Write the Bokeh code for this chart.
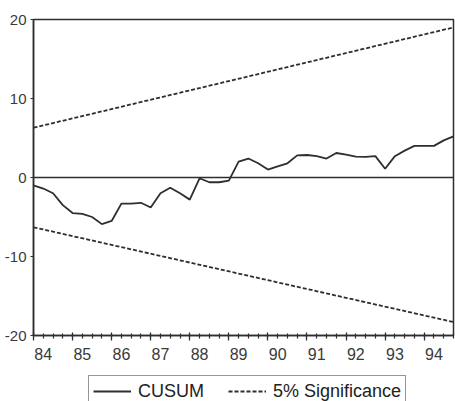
from bokeh.plotting import figure
from bokeh.layouts import column
from bokeh.models import Range1d, FixedTicker, Span, Legend, LegendItem
from bokeh.embed import file_html
from bokeh.resources import INLINE

# Quarterly observations 1984Q1 .. 1994Q4 (index 0..43)
quarters = list(range(44))
year_labels = ["84", "85", "86", "87", "88", "89", "90", "91", "92", "93", "94"]

# Cumulative sum of recursive residuals
cusum = [
    -1.0, -1.4, -2.0, -3.5, -4.5, -4.6, -5.0, -5.9, -5.5, -3.3,
    -3.3, -3.2, -3.8, -2.0, -1.3, -2.0, -2.8, -0.1, -0.6, -0.6,
    -0.4, 2.0, 2.4, 1.8, 1.0, 1.4, 1.8, 2.8, 2.85, 2.7,
    2.4, 3.1, 2.9, 2.65, 2.6, 2.7, 1.1, 2.7, 3.4, 4.0,
    4.0, 4.0, 4.7, 5.2,
]

# 5% significance bounds (straight lines between first and last observation)
bound_x = [0, 43]
upper_bound = [6.3, 19.0]
lower_bound = [-6.3, -18.3]

y_ticks = [-20, -10, 0, 10, 20]
y_labels = ["-20", "-10", "0", "10", "20"]

ink = "#2e2e2e"
label_ink = "#3a3a3a"
font = "Liberation Sans"
blank = "\u00a0"

p = figure(
    width=455, height=372,
    x_range=Range1d(0, 43), y_range=Range1d(-20, 20),
    output_backend="svg", toolbar_location=None,
    min_border_left=33, min_border_right=2,
    min_border_top=19, min_border_bottom=37,
)
p.background_fill_color = "white"
p.border_fill_color = "white"
p.outline_line_color = ink
p.outline_line_width = 1.5
p.xgrid.visible = False
p.ygrid.visible = False

# y axis
p.yaxis.ticker = FixedTicker(ticks=y_ticks)
p.yaxis.major_label_overrides = {t: s for t, s in zip(y_ticks, y_labels)}
p.yaxis.axis_line_color = ink
p.yaxis.axis_line_width = 1.5
p.yaxis.major_tick_out = 3
p.yaxis.major_tick_in = 0
p.yaxis.major_tick_line_color = ink
p.yaxis.minor_tick_line_color = None
p.yaxis.major_label_standoff = 4
p.yaxis.major_label_text_font = font
p.yaxis.major_label_text_font_size = "15px"
p.yaxis.major_label_text_color = label_ink

# x axis: a short mark every quarter, a longer mark at each year start,
# and the year label written beside the year's first quarter mark
year_starts = [i * 4 for i in range(len(year_labels))]
x_labels = {q: blank for q in quarters}
for start, lab in zip(year_starts, year_labels):
    x_labels[start + 1] = lab
p.xaxis.ticker = FixedTicker(ticks=quarters, minor_ticks=year_starts)
p.xaxis.major_label_overrides = x_labels
p.xaxis.axis_line_color = ink
p.xaxis.axis_line_width = 1.5
p.xaxis.major_tick_out = 3
p.xaxis.major_tick_in = 2
p.xaxis.minor_tick_out = 5
p.xaxis.minor_tick_in = 3
p.xaxis.major_tick_line_color = ink
p.xaxis.major_tick_line_width = 1.2
p.xaxis.minor_tick_line_color = ink
p.xaxis.minor_tick_line_width = 1.2
p.xaxis.major_label_standoff = 5
p.xaxis.major_label_text_font = font
p.xaxis.major_label_text_font_size = "16px"
p.xaxis.major_label_text_color = label_ink

# zero reference line
p.add_layout(Span(location=0, dimension="width", line_color=ink, line_width=1.5))

p.line(quarters, cusum, line_color=ink, line_width=1.8)
p.line(bound_x, upper_bound, line_color=ink, line_width=1.8, line_dash="4 2")
p.line(bound_x, lower_bound, line_color=ink, line_width=1.8, line_dash="4 2")

# legend strip below the chart
lf = figure(
    width=455, height=29,
    x_range=Range1d(0, 1), y_range=Range1d(0, 1),
    x_axis_type=None, y_axis_type=None,
    output_backend="svg", toolbar_location=None,
    min_border=0,
)
lf.outline_line_color = None
lf.background_fill_color = "white"
lf.border_fill_color = "white"
lf.grid.visible = False
# key renderers sit outside the visible range; only their legend glyphs show
key_cusum = lf.line([5, 6], [5, 6], line_color=ink, line_width=1.8)
key_sig = lf.line([5, 6], [5, 6], line_color=ink, line_width=1.8, line_dash="4 2")

legend = Legend(
    items=[
        LegendItem(label="CUSUM", renderers=[key_cusum]),
        LegendItem(label="5% Significance", renderers=[key_sig]),
    ],
    orientation="horizontal",
    location=(55, -6),
    border_line_color=ink,
    border_line_width=1.3,
    background_fill_color="white",
    background_fill_alpha=1.0,
    glyph_width=38,
    glyph_height=22,
    label_height=22,
    label_standoff=7,
    label_text_font=font,
    label_text_font_size="18px",
    label_text_color="#222222",
    padding=4,
    spacing=24,
    margin=0,
)
lf.add_layout(legend)

layout = column(p, lf, spacing=0)
open("out.html", "w").write(file_html(layout, INLINE))
